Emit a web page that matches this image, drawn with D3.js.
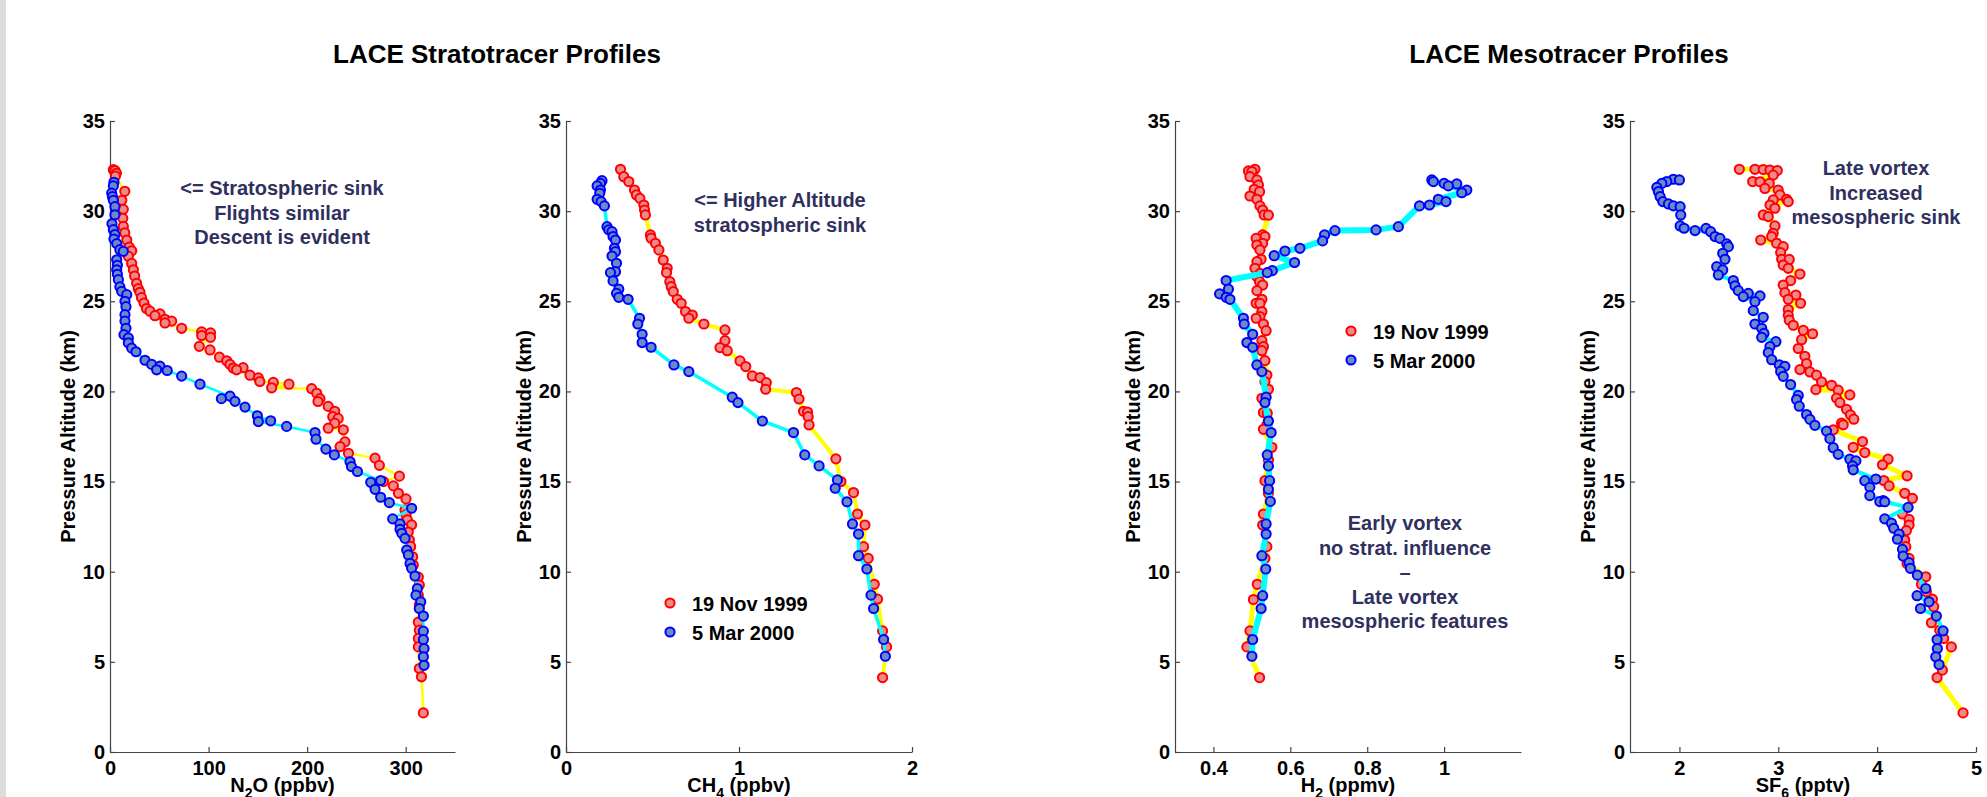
<!DOCTYPE html>
<html>
<head>
<meta charset="utf-8">
<script src="https://d3js.org/d3.v7.min.js"></script>
<style>
  body { margin: 0; background: #fff; }
  text { font-family: "Liberation Sans", Arial, Helvetica, sans-serif; font-weight: bold; }
</style>
</head>
<body>
<script>
// values: [mixing ratio, pressure altitude km]
const n2oNov = [[3.4,32.3],[5,32.25],[6.5,32.1],[5.5,31.95],[15,31.1],[12,30.6],[13.5,30.1],[13,29.6],[13.5,29.15],[15,28.8],[17,28.4],[19.6,28.0],[22,27.8],[18.6,27.5],[22,27.1],[23.7,26.75],[25,26.4],[27,26.0],[28.7,25.7],[30.4,25.5],[32,25.2],[34.5,24.9],[37,24.6],[40.6,24.45],[50.7,24.3],[45.6,24.2],[55.8,24.0],[62.6,23.9],[55.8,23.8],[72.7,23.5],[93,23.3],[102,23.25],[93,23.1],[102,23.0],[90.6,22.5],[101.5,22.3],[111,21.9],[118.4,21.7],[121.7,21.5],[135,21.32],[125,21.3],[128.4,21.2],[142,20.9],[150.5,20.75],[152,20.55],[165.7,20.5],[181.6,20.4],[164,20.2],[204.6,20.15],[209.7,19.9],[213,19.6],[211,19.44],[221.4,19.17],[228,18.9],[226,18.6],[231.5,18.5],[228,18.24],[221.4,17.96],[236.7,17.87],[238.4,17.2],[233.4,16.94],[241.9,16.57],[268.9,16.3],[273.3,15.9],[293.6,15.3],[277.4,15.0],[287.5,14.76],[292.6,14.35],[300.3,14.04],[299.3,13.43],[300.3,13.15],[301.6,12.87],[306,12.6],[302.6,12.2],[303.7,11.76],[305,11.4],[307,10.83],[307.7,10.37],[312.8,9.7],[313.8,9.26],[312.8,8.7],[313.8,8.15],[312.8,7.2],[313.8,6.76],[312.8,6.3],[312.8,5.83],[313.8,4.63],[316,4.17],[317.9,2.17]];
const n2oMar = [[4,31.6],[3.4,31.4],[1.7,31.0],[2.5,30.8],[3.4,30.6],[5,30.25],[5,29.8],[2,29.3],[3.4,28.97],[5,28.7],[4,28.45],[6.8,28.2],[10,27.86],[13.5,27.77],[6.8,27.3],[7.5,27.0],[6.8,26.75],[7.5,26.5],[8.5,26.2],[10,25.8],[11.8,25.55],[17,25.37],[15.2,25.0],[16.2,24.7],[15.2,24.26],[15.2,23.9],[16.2,23.5],[14.2,23.15],[18.6,22.97],[18.6,22.7],[22,22.4],[26.4,22.2],[35.5,21.73],[42.3,21.5],[50.7,21.4],[47.3,21.2],[58,21.16],[72.7,20.85],[91.3,20.4],[121.7,19.74],[113,19.6],[126.8,19.45],[137,19.13],[149.5,18.65],[163,18.37],[150.5,18.33],[179.2,18.06],[208,17.72],[209,17.35],[219,16.8],[227.6,16.48],[243.5,16.1],[245,15.83],[251,15.56],[274.6,15.06],[264.5,14.96],[268.9,14.57],[274.6,14.13],[283.4,13.83],[306,13.52],[286.8,12.93],[294.2,12.65],[294.2,12.35],[296,12.13],[299.3,11.85],[301,11.2],[302.7,10.93],[304.4,10.46],[306,10.19],[309.4,9.76],[311.8,9.07],[310.4,8.7],[315.2,8.33],[313.8,7.96],[317.9,7.54],[317.9,6.7],[317.9,6.24],[318.6,5.74],[317.9,5.28],[318.6,4.81]];

const ch4Nov = [[0.315,32.32],[0.334,31.91],[0.363,31.64],[0.396,31.17],[0.407,30.9],[0.427,30.71],[0.45,30.34],[0.454,30.06],[0.459,29.79],[0.488,28.68],[0.492,28.5],[0.517,28.22],[0.537,27.85],[0.562,27.29],[0.585,26.83],[0.581,26.59],[0.6,26.09],[0.608,25.81],[0.62,25.54],[0.643,25.11],[0.666,24.89],[0.691,24.43],[0.73,24.24],[0.71,24.06],[0.797,23.74],[0.919,23.41],[0.919,22.82],[0.89,22.43],[0.932,22.26],[1.006,21.69],[1.039,21.38],[1.077,20.86],[1.122,20.77],[1.158,20.49],[1.154,20.12],[1.332,19.94],[1.347,19.58],[1.373,18.9],[1.396,18.86],[1.4,18.6],[1.405,18.14],[1.56,16.26],[1.589,15.0],[1.662,14.39],[1.685,13.2],[1.728,12.59],[1.72,11.39],[1.747,10.74],[1.782,9.3],[1.801,8.48],[1.83,6.72],[1.853,5.83],[1.83,4.13]];
const ch4Mar = [[0.208,31.69],[0.199,31.54],[0.18,31.4],[0.199,31.17],[0.195,30.99],[0.18,30.66],[0.203,30.53],[0.222,30.29],[0.237,29.14],[0.247,28.96],[0.266,28.86],[0.272,28.59],[0.286,28.4],[0.28,27.94],[0.286,27.75],[0.266,27.51],[0.292,27.11],[0.286,26.64],[0.257,26.59],[0.272,26.13],[0.305,25.67],[0.292,25.44],[0.305,25.22],[0.359,25.11],[0.425,24.06],[0.415,23.74],[0.44,23.17],[0.44,22.71],[0.492,22.45],[0.624,21.47],[0.71,21.1],[0.961,19.68],[0.994,19.38],[1.135,18.36],[1.315,17.72],[1.38,16.48],[1.463,15.87],[1.569,15.09],[1.556,14.63],[1.624,13.88],[1.656,12.65],[1.691,12.09],[1.691,10.89],[1.739,10.15],[1.763,8.7],[1.778,7.96],[1.836,6.24],[1.846,5.31]];

const h2Nov = [[0.508,32.32],[0.491,32.23],[0.5,32.2],[0.495,31.91],[0.513,31.73],[0.517,31.45],[0.506,31.21],[0.52,31.08],[0.495,30.84],[0.513,30.66],[0.521,30.29],[0.528,30.06],[0.532,29.79],[0.543,29.78],[0.528,28.68],[0.534,28.59],[0.511,28.49],[0.528,28.22],[0.513,28.12],[0.521,27.85],[0.524,27.33],[0.513,27.2],[0.508,26.83],[0.521,26.55],[0.513,26.37],[0.52,26.09],[0.528,25.9],[0.513,25.59],[0.526,25.11],[0.511,24.89],[0.521,24.88],[0.526,24.43],[0.521,24.15],[0.511,24.06],[0.53,23.74],[0.537,23.37],[0.526,22.82],[0.53,22.49],[0.526,22.26],[0.534,21.71],[0.539,20.91],[0.534,20.55],[0.543,20.12],[0.526,19.62],[0.53,18.83],[0.54,18.79],[0.539,18.14],[0.53,17.9],[0.552,16.9],[0.543,16.2],[0.534,15.05],[0.543,14.35],[0.53,13.2],[0.528,12.59],[0.539,11.39],[0.534,10.74],[0.514,9.3],[0.504,8.46],[0.495,6.72],[0.487,5.83],[0.52,4.13]];
const h2Mar = [[0.968,31.73],[0.972,31.64],[1.0,31.54],[1.033,31.51],[1.011,31.4],[1.059,31.17],[1.046,31.02],[0.985,30.66],[1.005,30.53],[0.962,30.34],[0.936,30.29],[0.881,29.14],[0.823,28.96],[0.716,28.92],[0.689,28.68],[0.684,28.35],[0.625,27.94],[0.586,27.79],[0.558,27.53],[0.611,27.15],[0.553,26.7],[0.54,26.59],[0.433,26.15],[0.439,25.67],[0.416,25.41],[0.433,25.22],[0.443,25.11],[0.478,24.06],[0.48,23.74],[0.502,23.17],[0.487,22.71],[0.502,22.45],[0.513,21.47],[0.526,21.1],[0.537,19.68],[0.534,19.38],[0.543,18.36],[0.55,17.72],[0.54,16.48],[0.543,15.87],[0.546,15.05],[0.543,14.57],[0.548,13.9],[0.537,12.65],[0.537,12.09],[0.526,10.89],[0.536,10.15],[0.528,8.67],[0.524,7.96],[0.502,6.24],[0.5,5.31]];

const sf6Nov = [[2.606,32.32],[2.764,32.32],[2.848,32.31],[2.916,32.28],[2.99,32.25],[2.949,32.0],[2.741,31.64],[2.815,31.63],[2.909,31.54],[2.865,31.26],[2.999,31.17],[3.017,30.9],[3.084,30.66],[2.949,30.62],[3.101,30.53],[2.916,30.34],[2.966,30.16],[2.848,29.79],[2.899,29.7],[2.966,29.18],[2.949,28.77],[2.933,28.59],[2.822,28.4],[2.983,28.22],[3.05,28.03],[3.024,27.7],[3.034,27.33],[3.111,27.32],[3.05,27.01],[3.101,26.83],[3.219,26.51],[3.125,26.15],[3.05,25.9],[3.067,25.48],[3.178,25.35],[3.101,25.11],[3.226,24.89],[3.101,24.54],[3.101,24.22],[3.111,23.95],[3.152,23.67],[3.253,23.39],[3.347,23.2],[3.236,22.87],[3.202,22.38],[3.269,21.95],[3.286,21.55],[3.219,21.21],[3.32,21.08],[3.387,20.9],[3.438,20.53],[3.539,20.34],[3.38,20.1],[3.606,20.07],[3.724,19.81],[3.589,19.63],[3.623,19.38],[3.69,19.01],[3.73,18.7],[3.764,18.46],[3.64,18.24],[3.657,18.15],[3.556,17.87],[3.852,17.22],[3.758,16.9],[3.875,16.61],[4.111,16.24],[4.054,15.93],[4.303,15.32],[4.067,15.06],[4.121,14.76],[4.279,14.35],[4.357,14.07],[4.256,13.2],[4.323,12.9],[4.323,12.59],[4.296,12.28],[4.279,11.76],[4.29,11.39],[4.323,10.74],[4.303,10.46],[4.492,9.72],[4.448,9.3],[4.498,8.89],[4.559,8.48],[4.572,8.06],[4.549,7.17],[4.633,6.76],[4.673,6.3],[4.751,5.83],[4.66,4.54],[4.606,4.13],[4.869,2.17]];
const sf6Mar = [[1.939,31.77],[2.0,31.73],[1.872,31.64],[1.822,31.54],[1.771,31.32],[1.788,31.08],[1.805,30.8],[1.832,30.53],[1.889,30.4],[1.939,30.29],[2.007,30.25],[2.013,29.79],[2.007,29.18],[2.047,29.05],[2.269,29.04],[2.158,28.92],[2.316,28.86],[2.36,28.59],[2.41,28.49],[2.478,28.18],[2.495,28.03],[2.438,27.66],[2.461,27.33],[2.377,26.92],[2.438,26.74],[2.394,26.46],[2.545,26.15],[2.562,25.86],[2.596,25.59],[2.697,25.44],[2.815,25.3],[2.646,25.26],[2.764,24.98],[2.747,24.48],[2.848,24.11],[2.764,23.74],[2.832,23.5],[2.855,23.22],[2.832,23.0],[2.976,22.76],[2.916,22.49],[2.899,22.16],[2.933,21.76],[3.01,21.48],[3.067,21.39],[3.024,21.11],[3.05,20.84],[3.125,20.38],[3.202,19.78],[3.185,19.55],[3.212,19.18],[3.286,18.72],[3.32,18.45],[3.37,18.12],[3.488,17.8],[3.522,17.38],[3.556,16.88],[3.606,16.51],[3.724,16.24],[3.785,16.15],[3.751,15.87],[3.758,15.65],[3.987,15.14],[3.875,15.05],[3.926,14.68],[3.926,14.22],[4.061,13.95],[4.027,13.89],[4.077,13.88],[4.313,13.57],[4.077,12.93],[4.145,12.69],[4.168,12.41],[4.222,12.09],[4.205,11.8],[4.256,11.24],[4.263,10.87],[4.323,10.5],[4.336,10.19],[4.407,9.81],[4.492,9.07],[4.404,8.67],[4.525,8.33],[4.438,7.96],[4.599,7.54],[4.667,6.72],[4.606,6.24],[4.609,5.74],[4.593,5.28],[4.626,4.85]];

const altTicks = [0, 5, 10, 15, 20, 25, 30, 35];
const seriesNames = ["19 Nov 1999", "5 Mar 2000"];
const titles = ["LACE Stratotracer Profiles", "LACE Mesotracer Profiles"];
const notes = [
  ["<= Stratospheric sink", "Flights similar", "Descent is evident"],
  ["<= Higher Altitude", "stratospheric sink"],
  ["Early vortex", "no strat. influence", "\u2013", "Late vortex", "mesospheric features"],
  ["Late vortex", "Increased", "mesospheric sink"]
];

const W = 1987, H = 797;
const navy = "#30305e";

const svg = d3.select("body").append("svg")
    .attr("width", W)
    .attr("height", H);

svg.append("rect").attr("x", 0).attr("y", 0).attr("width", 6).attr("height", H).attr("fill", "#dcdcdc");

const y = d3.scaleLinear().domain([0, 35]).range([752, 121]);

const panels = [
  {nov: n2oNov, mar: n2oMar, domain: [0, 350], ticks: [0, 100, 200, 300], x0: 110, x1: 455,
   label: ["N", "2", "O (ppbv)"], wNov: 2.5, wMar: 2.5,
   note: notes[0], noteX: 282, noteY: 195, noteAnchor: "middle"},
  {nov: ch4Nov, mar: ch4Mar, domain: [0, 2], ticks: [0, 1, 2], x0: 566, x1: 912,
   label: ["CH", "4", " (ppbv)"], wNov: 4, wMar: 3.5,
   note: notes[1], noteX: 780, noteY: 207, noteAnchor: "middle",
   legendX: 670, legendY: 603},
  {nov: h2Nov, mar: h2Mar, domain: [0.3, 1.2], ticks: [0.4, 0.6, 0.8, 1], x0: 1175, x1: 1521,
   label: ["H", "2", " (ppmv)"], wNov: 5, wMar: 6,
   note: notes[2], noteX: 1405, noteY: 530, noteAnchor: "middle",
   legendX: 1351, legendY: 331},
  {nov: sf6Nov, mar: sf6Mar, domain: [1.5, 5], ticks: [2, 3, 4, 5], x0: 1630, x1: 1976,
   label: ["SF", "6", " (pptv)"], wNov: 5, wMar: 4,
   note: notes[3], noteX: 1876, noteY: 175, noteAnchor: "middle"}
];

// titles
svg.append("text").attr("x", 497).attr("y", 63).attr("text-anchor", "middle")
    .attr("font-size", 26).text(titles[0]);
svg.append("text").attr("x", 1569).attr("y", 63).attr("text-anchor", "middle")
    .attr("font-size", 26).text(titles[1]);

const byAlt = (arr) => d3.sort(arr, (a, b) => b[1] - a[1]);

function dots(g, data, x, stroke, fill) {
  g.append("g").selectAll("circle")
      .data(data)
      .enter().append("circle")
      .attr("cx", (d) => x(d[0]))
      .attr("cy", (d) => y(d[1]))
      .attr("r", 4.6)
      .attr("fill", fill)
      .attr("stroke", stroke)
      .attr("stroke-width", 2);
}

panels.forEach(function (p) {
  const x = d3.scaleLinear().domain(p.domain).range([p.x0, p.x1]);
  const g = svg.append("g");

  // axes (MATLAB style: ticks pointing inward, no box)
  const ax = g.append("g")
      .attr("transform", "translate(0," + y(0) + ")")
      .call(d3.axisBottom(x).tickValues(p.ticks).tickSizeInner(-5).tickSizeOuter(0)
          .tickPadding(9).tickFormat(d3.format("~g")));
  const ay = g.append("g")
      .attr("transform", "translate(" + p.x0 + ",0)")
      .call(d3.axisLeft(y).tickValues(altTicks).tickSizeInner(-5).tickSizeOuter(0).tickPadding(5));
  [ax, ay].forEach(function (a) {
    a.attr("font-size", 20).attr("font-family", null);
    a.select(".domain").attr("stroke", "#444").attr("stroke-width", 1.2);
    a.selectAll(".tick line").attr("stroke", "#444").attr("stroke-width", 1.2);
    a.selectAll(".tick text").attr("fill", "#000");
  });

  g.append("text")
      .attr("transform", "translate(" + (p.x0 - 35) + "," + ((y(0) + y(35)) / 2) + ") rotate(-90)")
      .attr("text-anchor", "middle")
      .attr("font-size", 20)
      .text("Pressure Altitude (km)");

  const xl = g.append("text")
      .attr("x", (p.x0 + p.x1) / 2)
      .attr("y", 792)
      .attr("text-anchor", "middle")
      .attr("font-size", 20);
  xl.append("tspan").text(p.label[0]);
  xl.append("tspan").attr("dy", 6).attr("font-size", 14).text(p.label[1]);
  xl.append("tspan").attr("dy", -6).text(p.label[2]);

  const line = d3.line().x((d) => x(d[0])).y((d) => y(d[1]));

  g.append("path").datum(byAlt(p.nov))
      .attr("d", line).attr("fill", "none")
      .attr("stroke", "#ffff00").attr("stroke-width", p.wNov).attr("stroke-linejoin", "round");
  dots(g, p.nov, x, "#ff0000", "#f08a8a");

  g.append("path").datum(byAlt(p.mar))
      .attr("d", line).attr("fill", "none")
      .attr("stroke", "#00ffff").attr("stroke-width", p.wMar).attr("stroke-linejoin", "round");
  dots(g, p.mar, x, "#0000ff", "#6a8cc4");

  // annotation
  const nt = g.append("text")
      .attr("text-anchor", p.noteAnchor)
      .attr("font-size", 20)
      .attr("fill", navy);
  p.note.forEach(function (s, i) {
    nt.append("tspan").attr("x", p.noteX).attr("y", p.noteY + i * 24.5).text(s);
  });

  if (p.legendX) {
    const lg = g.append("g");
    [["#ff0000", "#f08a8a"], ["#0000ff", "#6a8cc4"]].forEach(function (c, i) {
      lg.append("circle").attr("cx", p.legendX).attr("cy", p.legendY + i * 29)
          .attr("r", 4.6).attr("fill", c[1]).attr("stroke", c[0]).attr("stroke-width", 2);
      lg.append("text").attr("x", p.legendX + 22).attr("y", p.legendY + i * 29 + 8)
          .attr("font-size", 20).attr("fill", "#000").text(seriesNames[i]);
    });
  }
});
</script>
</body>
</html>
